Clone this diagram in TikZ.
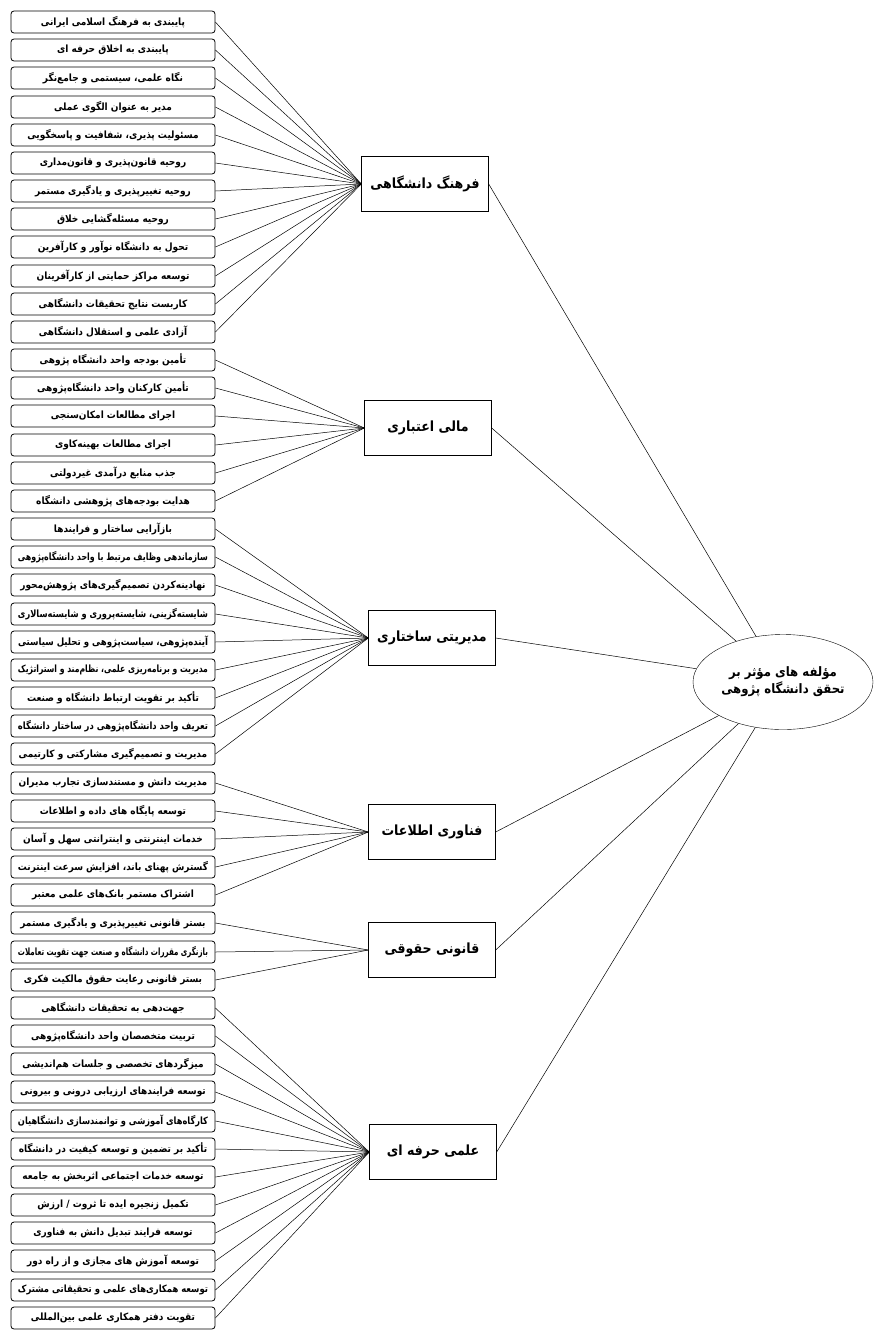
\documentclass[tikz,border=0pt]{standalone}
\usepackage{fontspec}
\usepackage{graphicx}
\TeXXeTstate=1
\newfontfamily\farsi[Script=Arabic,FakeStretch=0.9]{DejaVu Sans}
\newcommand{\fa}[1]{{\farsi\beginR #1\endR}}
% squeeze long labels into the box
\newsavebox\itemtext
\newcommand{\fitfa}[1]{\sbox\itemtext{\fa{#1}}%
  \ifdim\wd\itemtext>190pt\resizebox{190pt}{\height}{\usebox\itemtext}\else\usebox\itemtext\fi}
\usetikzlibrary{shapes.geometric}

\begin{document}
\begin{tikzpicture}[x=1pt,y=-1pt,
  item/.style={draw,thick,rounded corners=3pt,minimum width=204pt,minimum height=22pt,
    inner sep=0pt,font=\bfseries\fontsize{10}{11}\selectfont},
  group/.style={draw,minimum width=127pt,minimum height=55pt,inner sep=0pt,
    font=\bfseries\fontsize{14}{16}\selectfont},
  goal/.style={draw,ellipse,minimum width=180pt,minimum height=95pt,inner sep=0pt,
    align=center,font=\bfseries\fontsize{13}{17}\selectfont},
  link/.style={line width=0.5pt}]
\useasboundingbox (0,0) rectangle (878,1330);
% items
\node[item] (i1) at (113,22) {\fitfa{پایبندی به فرهنگ اسلامی ایرانی}};
\node[item] (i2) at (113,50) {\fitfa{پایبندی به اخلاق حرفه ای}};
\node[item] (i3) at (113,78) {\fitfa{نگاه علمی، سیستمی و جامع‌نگر}};
\node[item] (i4) at (113,107) {\fitfa{مدیر به عنوان الگوی عملی}};
\node[item] (i5) at (113,135) {\fitfa{مسئولیت پذیری، شفافیت و پاسخگویی}};
\node[item] (i6) at (113,163) {\fitfa{روحیه قانون‌پذیری و قانون‌مداری}};
\node[item] (i7) at (113,191) {\fitfa{روحیه تغییرپذیری و یادگیری مستمر}};
\node[item] (i8) at (113,219) {\fitfa{روحیه مسئله‌گشایی خلاق}};
\node[item] (i9) at (113,247) {\fitfa{تحول به دانشگاه نوآور و کارآفرین}};
\node[item] (i10) at (113,276) {\fitfa{توسعه مراکز حمایتی از کارآفرینان}};
\node[item] (i11) at (113,304) {\fitfa{کاربست نتایج تحقیقات دانشگاهی}};
\node[item] (i12) at (113,332) {\fitfa{آزادی علمی و استقلال دانشگاهی}};
\node[item] (i13) at (113,360) {\fitfa{تأمین بودجه واحد دانشگاه پژوهی}};
\node[item] (i14) at (113,388) {\fitfa{تأمین کارکنان واحد دانشگاه‌پژوهی}};
\node[item] (i15) at (113,416) {\fitfa{اجرای مطالعات امکان‌سنجی}};
\node[item] (i16) at (113,445) {\fitfa{اجرای مطالعات بهینه‌کاوی}};
\node[item] (i17) at (113,473) {\fitfa{جذب منابع درآمدی غیردولتی}};
\node[item] (i18) at (113,501) {\fitfa{هدایت بودجه‌های پژوهشی دانشگاه}};
\node[item] (i19) at (113,529) {\fitfa{بازآرایی ساختار و فرایندها}};
\node[item] (i20) at (113,557) {\fitfa{سازماندهی وظایف مرتبط با واحد دانشگاه‌پژوهی}};
\node[item] (i21) at (113,585) {\fitfa{نهادینه‌کردن تصمیم‌گیری‌های پژوهش‌محور}};
\node[item] (i22) at (113,614) {\fitfa{شایسته‌گزینی، شایسته‌پروری و شایسته‌سالاری}};
\node[item] (i23) at (113,642) {\fitfa{آینده‌پژوهی، سیاست‌پژوهی و تحلیل سیاستی}};
\node[item] (i24) at (113,670) {\fitfa{مدیریت و برنامه‌ریزی علمی، نظام‌مند و استراتژیک}};
\node[item] (i25) at (113,698) {\fitfa{تأکید بر تقویت ارتباط دانشگاه و صنعت}};
\node[item] (i26) at (113,726) {\fitfa{تعریف واحد دانشگاه‌پژوهی در ساختار دانشگاه}};
\node[item] (i27) at (113,754) {\fitfa{مدیریت و تصمیم‌گیری مشارکتی و کارتیمی}};
\node[item] (i28) at (113,783) {\fitfa{مدیریت دانش و مستندسازی تجارب مدیران}};
\node[item] (i29) at (113,811) {\fitfa{توسعه پایگاه های داده و اطلاعات}};
\node[item] (i30) at (113,839) {\fitfa{خدمات اینترنتی و اینترانتی سهل و آسان}};
\node[item] (i31) at (113,867) {\fitfa{گسترش پهنای باند، افزایش سرعت اینترنت}};
\node[item] (i32) at (113,895) {\fitfa{اشتراک مستمر بانک‌های علمی معتبر}};
\node[item] (i33) at (113,923) {\fitfa{بستر قانونی تغییرپذیری و یادگیری مستمر}};
\node[item] (i34) at (113,952) {\fitfa{بازنگری مقررات دانشگاه و صنعت جهت تقویت تعاملات}};
\node[item] (i35) at (113,980) {\fitfa{بستر قانونی رعایت حقوق مالکیت فکری}};
\node[item] (i36) at (113,1008) {\fitfa{جهت‌دهی به تحقیقات دانشگاهی}};
\node[item] (i37) at (113,1036) {\fitfa{تربیت متخصصان واحد دانشگاه‌پژوهی}};
\node[item] (i38) at (113,1064) {\fitfa{میزگردهای تخصصی و جلسات هم‌اندیشی}};
\node[item] (i39) at (113,1092) {\fitfa{توسعه فرایندهای ارزیابی درونی و بیرونی}};
\node[item] (i40) at (113,1121) {\fitfa{کارگاه‌های آموزشی و توانمندسازی دانشگاهیان}};
\node[item] (i41) at (113,1149) {\fitfa{تأکید بر تضمین و توسعه کیفیت در دانشگاه}};
\node[item] (i42) at (113,1177) {\fitfa{توسعه خدمات اجتماعی اثربخش به جامعه}};
\node[item] (i43) at (113,1205) {\fitfa{تکمیل زنجیره ایده تا ثروت / ارزش}};
\node[item] (i44) at (113,1233) {\fitfa{توسعه فرایند تبدیل دانش به فناوری}};
\node[item] (i45) at (113,1261) {\fitfa{توسعه آموزش های مجازی و از راه دور}};
\node[item] (i46) at (113,1290) {\fitfa{توسعه همکاری‌های علمی و تحقیقاتی مشترک}};
\node[item] (i47) at (113,1318) {\fitfa{تقویت دفتر همکاری علمی بین‌المللی}};
% groups
\node[group] (g1) at (425,184) {\fa{فرهنگ دانشگاهی}};
\node[group] (g2) at (428,428) {\fa{مالی اعتباری}};
\node[group] (g3) at (432,638) {\fa{مدیریتی ساختاری}};
\node[group] (g4) at (432,832) {\fa{فناوری اطلاعات}};
\node[group] (g5) at (432,950) {\fa{قانونی حقوقی}};
\node[group] (g6) at (433,1152) {\fa{علمی حرفه ای}};
% goal
\node[goal] (goal) at (783,682) {\fa{مؤلفه های مؤثر بر}\\ \fa{تحقق دانشگاه پژوهی}};
% links
\foreach \i in {1,...,12} \draw[link] (i\i.east) -- (g1.west);
\foreach \i in {13,...,18} \draw[link] (i\i.east) -- (g2.west);
\foreach \i in {19,...,27} \draw[link] (i\i.east) -- (g3.west);
\foreach \i in {28,...,32} \draw[link] (i\i.east) -- (g4.west);
\foreach \i in {33,...,35} \draw[link] (i\i.east) -- (g5.west);
\foreach \i in {36,...,47} \draw[link] (i\i.east) -- (g6.west);
\foreach \g in {1,...,6} \draw[link] (g\g.east) -- (goal);
\end{tikzpicture}
\end{document}
